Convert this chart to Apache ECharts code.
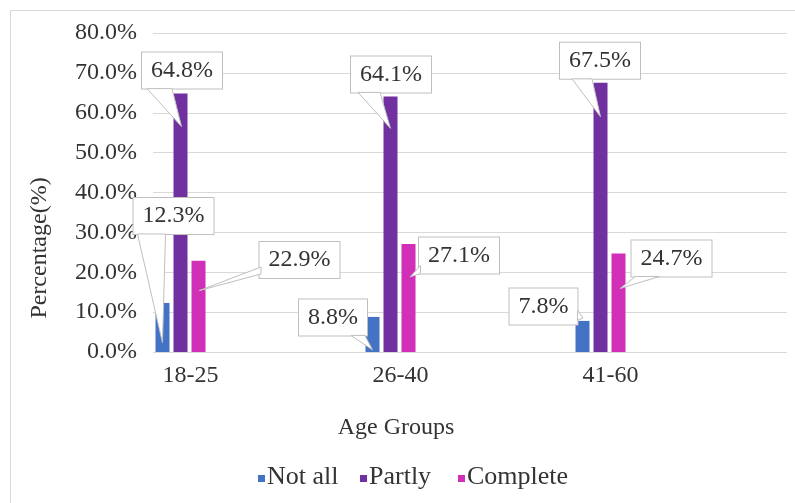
<!DOCTYPE html>
<html>
<head>
<meta charset="utf-8">
<script src="https://cdn.jsdelivr.net/npm/echarts@6/dist/echarts.min.js"></script>
<style>
  html, body { margin: 0; padding: 0; background: #ffffff; }
  #chart { width: 795px; height: 503px; }
</style>
</head>
<body>
<div id="chart"></div>
<script>
// Survey result: share of respondents per age group
const ageGroups = ['18-25', '26-40', '41-60'];
const seriesNames = ['Not all', 'Partly', 'Complete'];
const notAll = [12.3, 8.8, 7.8];
const partly = [64.8, 64.1, 67.5];
const complete = [22.9, 27.1, 24.7];
const yMin = 0, yMax = 80, yStep = 10;

// Callout geometry, per series then per group:
// [box dx, box dy] from the bar top centre, wedge base points relative to the box centre,
// wedge tip relative to the bar top centre.
const calloutNotAll = [
  { box: [11, -87],   base: [[-36, 18], [-8, 18]],   tip: [0, 40] },
  { box: [-39.5, 0.5], base: [[18, 18], [32, 18]],   tip: [0, 33] },
  { box: [-39, -14.5], base: [[34, 4], [34, 14]],    tip: [0.5, -3] }
];
const calloutPartly = [
  { box: [1.5, -23],  base: [[-35, 18], [-10, 18]],  tip: [1, 33] },
  { box: [0.5, -22],  base: [[-33, 18], [-11, 18]],  tip: [0, 32] },
  { box: [-0.5, -22], base: [[-28, 18], [-8, 18]],   tip: [0, 34] }
];
const calloutComplete = [
  { box: [101, -0.7], base: [[-38.5, 7], [-38.5, 14]],  tip: [0.5, 30] },
  { box: [50.5, 11.6], base: [[-38.5, 10], [-38.5, 18]], tip: [1.5, 33] },
  { box: [53, 5],     base: [[-36, 18], [-12, 18]],      tip: [1.5, 35] }
];

// Legend entry positions (icon left edge) along the bottom row
const legendX = [258, 360, 458];
const legendY = 477;

const colors = ['#4472C4', '#7030A0', '#D22FB8'];
const serif = "'Liberation Serif', serif";
const textColor = '#333333';
const barWidth = 14;
const barGapPx = 4;

const values = [notAll, partly, complete];
const callouts = [calloutNotAll, calloutPartly, calloutComplete];

const chart = echarts.init(document.getElementById('chart'), null, { renderer: 'canvas' });

const barSeries = seriesNames.map((name, s) => ({
  name: name,
  type: 'bar',
  xAxisIndex: 1,
  yAxisIndex: 1,
  barWidth: barWidth,
  barGap: (barGapPx / barWidth * 100) + '%',
  itemStyle: { color: colors[s] },
  z: 2,
  label: {
    show: true,
    align: 'center',
    verticalAlign: 'middle',
    fontFamily: serif,
    fontSize: 24,
    lineHeight: 24,
    color: textColor,
    backgroundColor: '#ffffff',
    borderColor: '#bfbfbf',
    borderWidth: 1,
    padding: [6, 9],
    formatter: p => p.value.toFixed(1) + '%'
  },
  data: values[s].map((v, g) => ({
    value: v,
    label: { position: [barWidth / 2 + callouts[s][g].box[0], callouts[s][g].box[1]] }
  }))
}));

// Callout wedges joining each label box to its bar
const wedgeData = [];
values.forEach((arr, s) => arr.forEach((v, g) => wedgeData.push([g, v, s])));

const wedgeSeries = {
  type: 'custom',
  xAxisIndex: 1,
  yAxisIndex: 1,
  silent: true,
  z: 3,
  data: wedgeData,
  renderItem: function (params, api) {
    const g = api.value(0), v = api.value(1), s = api.value(2);
    const top = api.coord([g, v]);
    const cx = top[0] + (s - 1) * (barWidth + barGapPx);
    const cy = top[1];
    const c = callouts[s][g];
    const bx = cx + c.box[0], by = cy + c.box[1];
    const pts = [
      [bx + c.base[0][0], by + c.base[0][1]],
      [cx + c.tip[0], cy + c.tip[1]],
      [bx + c.base[1][0], by + c.base[1][1]]
    ];
    return {
      type: 'polygon',
      shape: { points: pts },
      style: { fill: '#ffffff', stroke: '#bfbfbf', lineWidth: 1 }
    };
  }
};

// Bottom legend: small square swatch followed by the series name
const legendGraphics = [];
seriesNames.forEach((name, s) => {
  legendGraphics.push({
    type: 'rect',
    shape: { x: legendX[s], y: legendY - 2, width: 7, height: 7 },
    style: { fill: colors[s] },
    silent: true
  });
  legendGraphics.push({
    type: 'text',
    x: legendX[s] + 9,
    y: legendY,
    style: {
      text: name,
      fontFamily: serif,
      fontSize: 26,
      fill: textColor,
      align: 'left',
      verticalAlign: 'middle'
    },
    silent: true
  });
});

const option = {
  backgroundColor: '#ffffff',
  animation: false,
  textStyle: { fontFamily: serif },
  grid: [
    { left: 153, right: 8, top: 33, bottom: 151 },
    { left: 75.5, right: 89.5, top: 33, bottom: 151 }
  ],
  xAxis: [
    { gridIndex: 0, type: 'value', min: 0, max: 1, show: false },
    {
      gridIndex: 1,
      type: 'category',
      data: ageGroups,
      axisLine: { show: false },
      axisTick: { show: false },
      axisLabel: {
        fontFamily: serif,
        fontSize: 24,
        color: textColor,
        margin: 12,
        padding: [0, 0, 0, 20]
      }
    }
  ],
  yAxis: [
    {
      gridIndex: 0,
      type: 'value',
      min: yMin,
      max: yMax,
      interval: yStep,
      axisLine: { show: false },
      axisTick: { show: false },
      splitLine: { lineStyle: { color: '#d9d9d9', width: 1 } },
      axisLabel: {
        fontFamily: serif,
        fontSize: 24,
        color: textColor,
        margin: 16,
        formatter: v => v.toFixed(1) + '%'
      }
    },
    {
      gridIndex: 1,
      type: 'value',
      min: yMin,
      max: yMax,
      interval: yStep,
      show: false,
      splitLine: { show: false }
    }
  ],
  graphic: [
    {
      type: 'rect',
      shape: { x: 10.5, y: 10.5, width: 800, height: 520 },
      style: { fill: 'none', stroke: '#d9d9d9', lineWidth: 1 },
      silent: true,
      z: -1
    },
    {
      type: 'text',
      x: 40,
      y: 248,
      rotation: Math.PI / 2,
      style: {
        text: 'Percentage(%)',
        fontFamily: serif,
        fontSize: 24,
        fill: textColor,
        align: 'center',
        verticalAlign: 'middle'
      }
    },
    {
      type: 'text',
      x: 396,
      y: 428,
      style: {
        text: 'Age Groups',
        fontFamily: serif,
        fontSize: 24,
        fill: textColor,
        align: 'center',
        verticalAlign: 'middle'
      }
    }
  ].concat(legendGraphics),
  series: barSeries.concat([wedgeSeries])
};

chart.setOption(option);
</script>
</body>
</html>
